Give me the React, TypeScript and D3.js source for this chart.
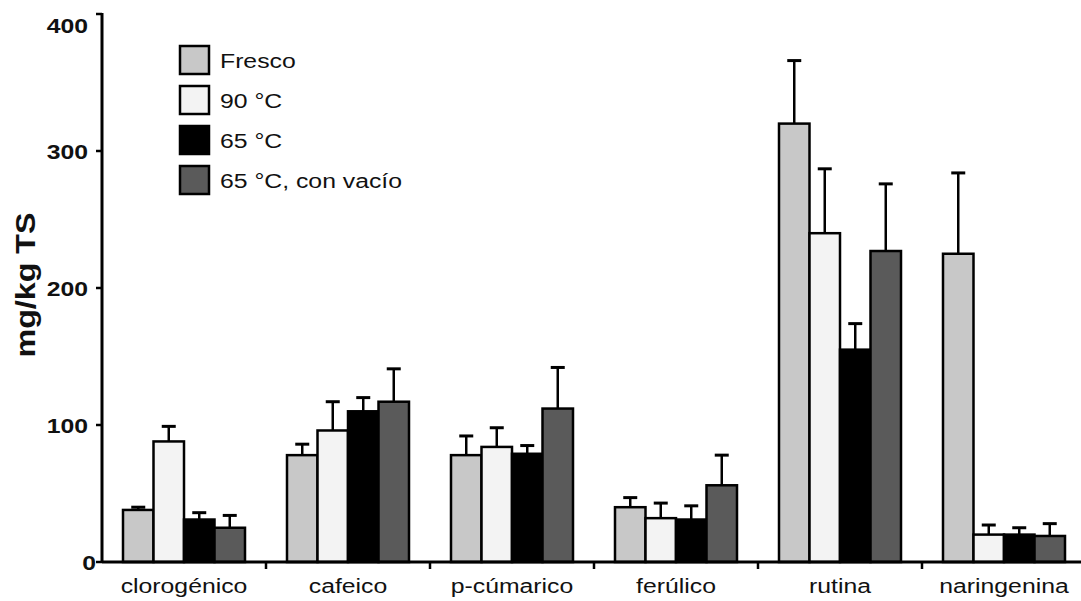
import React, { useEffect, useRef } from "react";
import * as d3 from "d3";

const categories = ["clorogénico", "cafeico", "p-cúmarico", "ferúlico", "rutina", "naringenina"];
const seriesNames = ["Fresco", "90 °C", "65 °C", "65 °C, con vacío"];
const seriesColors = ["#c8c8c8", "#f3f3f3", "#000000", "#5a5a5a"];

// mean values per series, in category order
const fresco = [38, 78, 78, 40, 320, 225];
const c90 = [88, 96, 84, 32, 240, 20];
const c65 = [31, 110, 79, 31, 155, 20];
const c65vac = [25, 117, 112, 56, 227, 19];

// upper ends of the error bars
const frescoErr = [40, 86, 92, 47, 366, 284];
const c90Err = [99, 117, 98, 43, 287, 27];
const c65Err = [36, 120, 85, 41, 174, 25];
const c65vacErr = [34, 141, 142, 78, 276, 28];

const yTicks = [0, 100, 200, 300, 400];

export default function App() {
  const ref = useRef<SVGSVGElement | null>(null);

  useEffect(() => {
    const svg = d3.select(ref.current);
    svg.selectAll("*").remove();

    const W = 1081;
    const H = 601;
    const x0 = 102;
    const groupW = 164;
    const yBase = 562;
    const yTop = 14;
    const stretch = 1.18; // text is set slightly wide

    const x = d3
      .scaleBand<string>()
      .domain(categories)
      .range([x0, x0 + groupW * categories.length])
      .padding(0);
    const xs = d3.scaleBand<string>().domain(seriesNames).range([21, 143]).padding(0);
    const y = d3.scaleLinear().domain([0, 400]).range([yBase, yTop]);

    const values = [fresco, c90, c65, c65vac];
    const errs = [frescoErr, c90Err, c65Err, c65vacErr];

    svg.append("rect").attr("width", W).attr("height", H).attr("fill", "#ffffff");

    const font = "'Liberation Sans', Arial, sans-serif";

    const wideText = (
      parent: d3.Selection<any, unknown, null, undefined>,
      tx: number,
      ty: number,
      label: string,
      size: number,
      anchor: string,
      bold = false
    ) =>
      parent
        .append("text")
        .attr("transform", `translate(${tx},${ty}) scale(${stretch},1)`)
        .attr("text-anchor", anchor)
        .attr("font-family", font)
        .attr("font-weight", bold ? "bold" : "normal")
        .attr("font-size", size)
        .attr("fill", "#111")
        .text(label);

    // bars and error bars
    const g = svg.append("g");
    categories.forEach((cat, ci) => {
      seriesNames.forEach((s, si) => {
        const bx = (x(cat) as number) + (xs(s) as number);
        const bw = xs.bandwidth();
        const v = values[si][ci];
        const e = errs[si][ci];
        const cx = bx + bw / 2;
        g.append("line")
          .attr("x1", cx)
          .attr("x2", cx)
          .attr("y1", y(v))
          .attr("y2", y(e))
          .attr("stroke", "#000")
          .attr("stroke-width", 2.5);
        g.append("line")
          .attr("x1", cx - 7)
          .attr("x2", cx + 7)
          .attr("y1", y(e))
          .attr("y2", y(e))
          .attr("stroke", "#000")
          .attr("stroke-width", 3);
        g.append("rect")
          .attr("x", bx)
          .attr("y", y(v))
          .attr("width", bw)
          .attr("height", y(0) - y(v))
          .attr("fill", seriesColors[si])
          .attr("stroke", "#000")
          .attr("stroke-width", 2.5);
      });
    });

    // y axis
    const ya = svg.append("g");
    ya.append("line")
      .attr("x1", x0)
      .attr("x2", x0)
      .attr("y1", yTop - 1)
      .attr("y2", yBase + 1)
      .attr("stroke", "#000")
      .attr("stroke-width", 3);
    yTicks.forEach((t) => {
      ya.append("line")
        .attr("x1", x0 - 6)
        .attr("x2", x0)
        .attr("y1", y(t))
        .attr("y2", y(t))
        .attr("stroke", "#000")
        .attr("stroke-width", 2.5);
      wideText(ya, x0 - (t === 0 ? 6 : 14), Math.max(y(t), 25) + 7.5, String(t), 21, "end", true);
    });

    svg
      .append("text")
      .attr("transform", `translate(35, ${y(200) - 3}) rotate(-90)`)
      .attr("text-anchor", "middle")
      .attr("font-family", font)
      .attr("font-weight", "bold")
      .attr("font-size", 27)
      .attr("textLength", 145)
      .attr("lengthAdjust", "spacingAndGlyphs")
      .attr("fill", "#111")
      .text("mg/kg TS");

    // x axis
    const xa = svg.append("g");
    xa.append("line")
      .attr("x1", x0)
      .attr("x2", W)
      .attr("y1", yBase)
      .attr("y2", yBase)
      .attr("stroke", "#000")
      .attr("stroke-width", 3);
    categories.slice(1).forEach((cat) => {
      const tx = x(cat) as number;
      xa.append("line")
        .attr("x1", tx)
        .attr("x2", tx)
        .attr("y1", yBase)
        .attr("y2", yBase + 7)
        .attr("stroke", "#000")
        .attr("stroke-width", 2.5);
    });
    categories.forEach((cat) => {
      wideText(xa, (x(cat) as number) + groupW / 2, 593, cat, 21, "middle");
    });

    // legend
    const lg = svg.append("g").attr("transform", "translate(180, 46)");
    seriesNames.forEach((s, i) => {
      lg.append("rect")
        .attr("x", 0)
        .attr("y", i * 40)
        .attr("width", 29)
        .attr("height", 28)
        .attr("fill", seriesColors[i])
        .attr("stroke", "#000")
        .attr("stroke-width", 2.5);
      wideText(lg, 40, i * 40 + 21.5, s, 21, "start");
    });
  }, []);

  return (
    <svg
      ref={ref}
      width={1081}
      height={601}
      style={{ position: "absolute", left: 0, top: 0 }}
    />
  );
}
